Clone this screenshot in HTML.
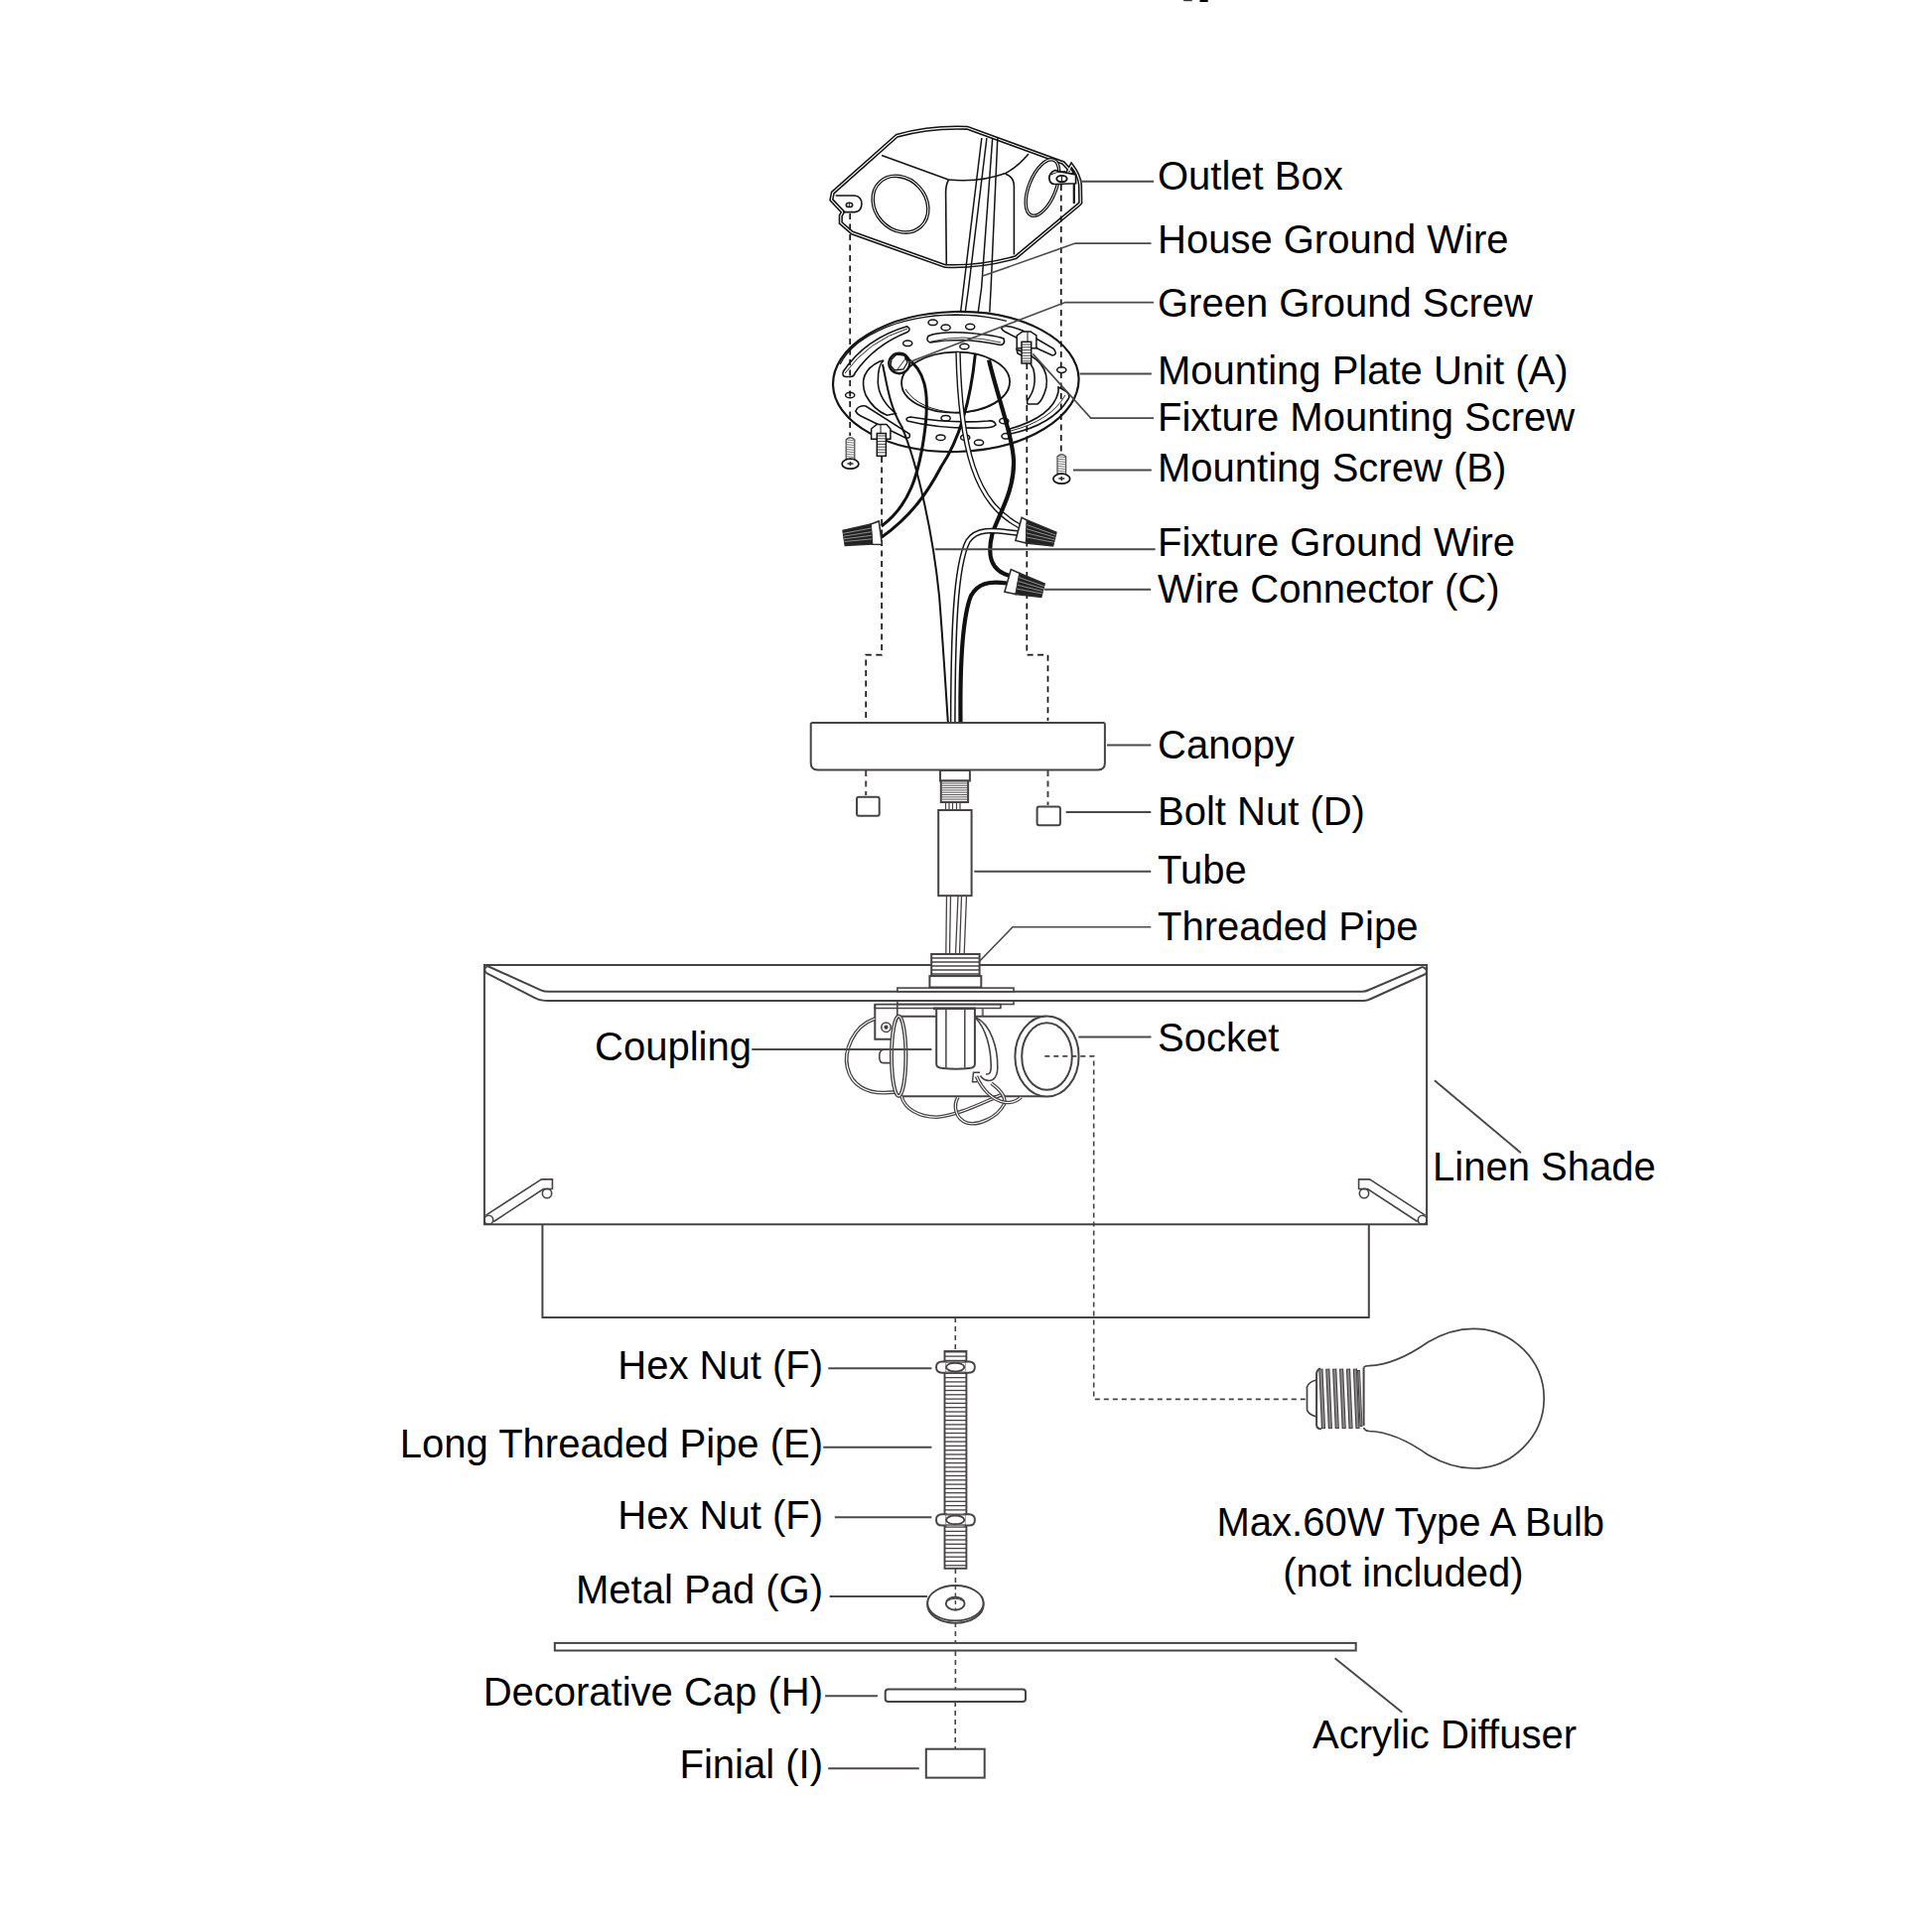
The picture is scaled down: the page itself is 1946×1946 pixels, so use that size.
<!DOCTYPE html>
<html><head><meta charset="utf-8">
<style>
html,body{margin:0;padding:0;background:#fff;}
svg{display:block;}
text{font-family:"Liberation Sans",sans-serif;font-size:40px;fill:#000;}
</style></head>
<body>
<svg width="1946" height="1946" viewBox="0 0 1946 1946">
<rect width="1946" height="1946" fill="#fff"/>
<rect x="1192.2" y="0" width="8.5" height="1.2" fill="#333"/><rect x="1208.5" y="0" width="8.2" height="2" fill="#000"/>
<path d="M487.9,971.9 L1437.1,971.9 L1437.1,1233.3 L487.9,1233.3 Z" stroke="#474344" stroke-width="2.0" fill="none" />
<path d="M491,973 L544.9,997.3 Q548,998.8 552.6,998.8 L1371.9,998.8 Q1375.5,998.8 1379,997 L1433,973.8" stroke="#474344" stroke-width="2.0" fill="none" />
<path d="M490,980.2 L539.7,1005.5 Q544,1008.1 552.6,1008.1 L1373.5,1008.1 Q1377,1008 1381,1006 L1436,981" stroke="#474344" stroke-width="2.0" fill="none" />
<path d="M491,973 Q486,976 490,980.2" stroke="#474344" stroke-width="2.0" fill="none" />
<path d="M1433,973.8 Q1439,977 1436,981" stroke="#474344" stroke-width="2.0" fill="none" />
<path d="M546.4,1233.3 L546.4,1326.9 L1378.8,1326.9 L1378.8,1233.3" stroke="#474344" stroke-width="2.0" fill="none" />
<ellipse cx="492.3" cy="1228.7" rx="4.4" ry="4.4" stroke="#474344" stroke-width="1.6" fill="none"/>
<path d="M489.3,1224.2 L543.8,1188.8 Q545,1187.9 546.1,1187.9 L556.4,1187.9 L556.4,1197.5 L547.5,1197.5 L497.2,1230.5" stroke="#474344" stroke-width="1.6" fill="none" />
<ellipse cx="551.0" cy="1202.1" rx="4.7" ry="4.7" stroke="#474344" stroke-width="1.6" fill="none"/>
<ellipse cx="1432.7" cy="1228.7" rx="4.4" ry="4.4" stroke="#474344" stroke-width="1.6" fill="none"/>
<path d="M1435.7,1224.2 L1381.2,1188.8 Q1380.0,1187.9 1378.9,1187.9 L1368.6,1187.9 L1368.6,1197.5 L1377.5,1197.5 L1427.8,1230.5" stroke="#474344" stroke-width="1.6" fill="none" />
<ellipse cx="1374.0" cy="1202.1" rx="4.7" ry="4.7" stroke="#474344" stroke-width="1.6" fill="none"/>
<path d="M816.7,729.5 Q816.7,727.9 818.5,727.9 L1111.2,727.9 Q1112.9,727.9 1112.9,729.5 L1112.9,768.5 Q1112.9,775.4 1106,775.4 L823.5,775.4 Q816.7,775.4 816.7,768.5 Z" stroke="#474344" stroke-width="2" fill="none" />
<rect x="947.0" y="776.0" width="29.9" height="10.5" rx="0" stroke="#474344" stroke-width="2.0" fill="#fff"/>
<rect x="947.8" y="786.5" width="27.3" height="21.5" rx="0" stroke="#474344" stroke-width="2.0" fill="#fff"/>
<line x1="948.5" y1="789.0" x2="974.5" y2="789.0" stroke="#474344" stroke-width="0.9" />
<line x1="948.5" y1="791.3" x2="974.5" y2="791.3" stroke="#474344" stroke-width="0.9" />
<line x1="948.5" y1="793.6" x2="974.5" y2="793.6" stroke="#474344" stroke-width="0.9" />
<line x1="948.5" y1="795.9" x2="974.5" y2="795.9" stroke="#474344" stroke-width="0.9" />
<line x1="948.5" y1="798.2" x2="974.5" y2="798.2" stroke="#474344" stroke-width="0.9" />
<line x1="948.5" y1="800.5" x2="974.5" y2="800.5" stroke="#474344" stroke-width="0.9" />
<line x1="948.5" y1="802.8" x2="974.5" y2="802.8" stroke="#474344" stroke-width="0.9" />
<line x1="948.5" y1="805.1" x2="974.5" y2="805.1" stroke="#474344" stroke-width="0.9" />
<line x1="948.5" y1="807.4" x2="974.5" y2="807.4" stroke="#474344" stroke-width="0.9" />
<line x1="952.5" y1="808.0" x2="952.5" y2="816.0" stroke="#474344" stroke-width="1.2" />
<line x1="956.0" y1="808.0" x2="956.0" y2="816.0" stroke="#474344" stroke-width="1.2" />
<line x1="959.5" y1="808.0" x2="959.5" y2="816.0" stroke="#474344" stroke-width="1.2" />
<line x1="963.5" y1="808.0" x2="963.5" y2="816.0" stroke="#474344" stroke-width="1.2" />
<line x1="967.0" y1="808.0" x2="967.0" y2="816.0" stroke="#474344" stroke-width="1.2" />
<rect x="945.2" y="816.0" width="33.4" height="86.2" rx="0" stroke="#474344" stroke-width="2" fill="#fff"/>
<line x1="953.5" y1="902.2" x2="952.8" y2="961.0" stroke="#474344" stroke-width="1.3" />
<line x1="957.5" y1="902.2" x2="956.5" y2="961.0" stroke="#474344" stroke-width="1.3" />
<line x1="965.0" y1="902.2" x2="962.5" y2="961.0" stroke="#474344" stroke-width="1.3" />
<line x1="968.5" y1="902.2" x2="966.5" y2="961.0" stroke="#474344" stroke-width="1.3" />
<line x1="973.5" y1="902.2" x2="971.2" y2="961.0" stroke="#474344" stroke-width="1.3" />
<rect x="938.2" y="961.0" width="48.4" height="22.1" rx="0" stroke="#474344" stroke-width="2.0" fill="#fff"/>
<line x1="938.5" y1="965.0" x2="986.3" y2="965.0" stroke="#474344" stroke-width="1.3" />
<line x1="938.5" y1="969.0" x2="986.3" y2="969.0" stroke="#474344" stroke-width="1.3" />
<line x1="938.5" y1="973.0" x2="986.3" y2="973.0" stroke="#474344" stroke-width="1.3" />
<line x1="938.5" y1="977.0" x2="986.3" y2="977.0" stroke="#474344" stroke-width="1.3" />
<line x1="938.5" y1="981.0" x2="986.3" y2="981.0" stroke="#474344" stroke-width="1.3" />
<rect x="936.4" y="983.1" width="51.9" height="11.4" rx="0" stroke="#474344" stroke-width="2.0" fill="#fff"/>
<rect x="903.9" y="995.1" width="117.1" height="3.6" rx="0" stroke="#474344" stroke-width="1.6" fill="#fff"/>
<rect x="903.9" y="1008.2" width="117.1" height="3.3" rx="0" stroke="#474344" stroke-width="1.6" fill="#fff"/>
<rect x="863.0" y="802.7" width="22.7" height="19.0" rx="2" stroke="#474344" stroke-width="2.0" fill="#fff"/>
<rect x="1044.6" y="812.4" width="23.3" height="18.8" rx="2" stroke="#474344" stroke-width="2.0" fill="#fff"/>
<path d="M872.2,776.0 L872.2,801.0" stroke="#474344" stroke-width="2.0" fill="none" stroke-dasharray="6 4.5"/>
<path d="M1055.5,776.0 L1055.5,811.0" stroke="#474344" stroke-width="2.0" fill="none" stroke-dasharray="6 4.5"/>
<path d="M881.3,1011.6 L1007.9,1011.6 L1007.9,1015.5 L881.3,1015.5 Z" stroke="#474344" stroke-width="1.6" fill="none" />
<path d="M881.3,1011.6 L881.3,1046.7 L898.7,1046.7" stroke="#474344" stroke-width="2.0" fill="none" />
<line x1="903.8" y1="1011.9" x2="903.8" y2="1023.5" stroke="#474344" stroke-width="1.6" />
<line x1="989.8" y1="1016.0" x2="989.8" y2="1023.9" stroke="#777" stroke-width="2.2" />
<ellipse cx="892.5" cy="1034.7" rx="4.7" ry="4.7" stroke="#474344" stroke-width="1.5" fill="none"/>
<ellipse cx="892.5" cy="1034.7" rx="1.5" ry="1.5" stroke="#474344" stroke-width="1.2" fill="#2a2a2a"/>
<path d="M881.3,1026 C858,1034 850,1060 853.5,1075 C858,1095 875,1101 890.7,1100.7 L902.3,1100" stroke="#474344" stroke-width="3.8" fill="none" />
<path d="M881.3,1026 C858,1034 850,1060 853.5,1075 C858,1095 875,1101 890.7,1100.7 L902.3,1100" stroke="#fff" stroke-width="1.2" fill="none" />
<path d="M898,1057.2 L889.5,1057.2 Q885.7,1058 885.7,1064 Q885.7,1070.6 889.5,1070.6 L898,1070.6" stroke="#474344" stroke-width="1.6" fill="none" />
<line x1="903.8" y1="1023.8" x2="1054.0" y2="1023.8" stroke="#474344" stroke-width="2.0" />
<line x1="906.0" y1="1104.3" x2="1052.6" y2="1104.3" stroke="#474344" stroke-width="2.0" />
<ellipse cx="905.2" cy="1063.7" rx="7.2" ry="40.2" stroke="#474344" stroke-width="4.0" fill="none"/>
<ellipse cx="905.2" cy="1063.7" rx="7.2" ry="40.2" stroke="#fff" stroke-width="1.2" fill="none"/>
<path d="M943.2,1016 L981.9,1016 L981.9,1072 Q981.9,1075.5 976,1076 Q963,1077.5 950,1076 Q943.2,1075.5 943.2,1072 Z" stroke="#474344" stroke-width="2.0" fill="#fff" />
<line x1="952.9" y1="1017.0" x2="952.9" y2="1075.5" stroke="#474344" stroke-width="1.5" />
<line x1="971.8" y1="1017.0" x2="971.8" y2="1075.5" stroke="#474344" stroke-width="1.5" />
<line x1="940.0" y1="1015.8" x2="983.0" y2="1015.8" stroke="#474344" stroke-width="2.4" />
<path d="M982.8,1024.8 C998,1032 1005,1055 1004.8,1075 C1004.8,1084 1001,1088.5 996.5,1088.5 C992,1088.5 989,1086 987.5,1083.5" stroke="#474344" stroke-width="1.6" fill="none" />
<path d="M982.8,1025.5 C993,1036 998,1055 998.2,1073 C998.4,1080 997,1082.5 993,1082" stroke="#474344" stroke-width="1.6" fill="none" />
<path d="M987,1080.3 L980.5,1080.3 L979.5,1089.7 L984,1089.7" stroke="#474344" stroke-width="1.5" fill="none" />
<ellipse cx="1054.5" cy="1064.0" rx="32.1" ry="40.6" stroke="#474344" stroke-width="2.0" fill="#fff"/>
<ellipse cx="1054.5" cy="1064.0" rx="25.3" ry="33.7" stroke="#474344" stroke-width="2.0" fill="none"/>
<path d="M908,1104.2 C911,1117 926,1125.2 943.5,1125.2 C962,1124 985,1113 1000,1106.5 L1010,1102" stroke="#474344" stroke-width="3.6" fill="none" />
<path d="M908,1104.2 C911,1117 926,1125.2 943.5,1125.2 C962,1124 985,1113 1000,1106.5 L1010,1102" stroke="#fff" stroke-width="1.1" fill="none" />
<path d="M998.6,1091.2 C1008,1098 1014,1106 1011,1113 C1004,1126 985,1134 974,1131 C962,1127 960,1113 965,1105" stroke="#474344" stroke-width="3.6" fill="none" />
<path d="M998.6,1091.2 C1008,1098 1014,1106 1011,1113 C1004,1126 985,1134 974,1131 C962,1127 960,1113 965,1105" stroke="#fff" stroke-width="1.1" fill="none" />
<path d="M983.5,1084 C989,1097 1000,1109 1013,1110.5 C1020,1111 1025,1108.5 1028.5,1105" stroke="#474344" stroke-width="3.6" fill="none" />
<path d="M983.5,1084 C989,1097 1000,1109 1013,1110.5 C1020,1111 1025,1108.5 1028.5,1105" stroke="#fff" stroke-width="1.1" fill="none" />
<path d="M1052.3,1063.9 L1101.7,1063.9 L1101.7,1409.4 L1316.0,1409.4" stroke="#474344" stroke-width="1.6" fill="none" stroke-dasharray="5 4"/>
<path d="M962.3,1327.0 L962.3,1361.0" stroke="#474344" stroke-width="1.6" fill="none" stroke-dasharray="5 4"/>
<rect x="951.5" y="1361.0" width="21.9" height="218.8" rx="0" stroke="#474344" stroke-width="1.9" fill="#fff"/>
<line x1="952.0" y1="1361.8" x2="973.0" y2="1361.8" stroke="#474344" stroke-width="1.3" />
<line x1="952.0" y1="1366.1" x2="973.0" y2="1366.1" stroke="#474344" stroke-width="1.3" />
<line x1="952.0" y1="1370.4" x2="973.0" y2="1370.4" stroke="#474344" stroke-width="1.3" />
<line x1="952.0" y1="1374.7" x2="973.0" y2="1374.7" stroke="#474344" stroke-width="1.3" />
<line x1="952.0" y1="1379.0" x2="973.0" y2="1379.0" stroke="#474344" stroke-width="1.3" />
<line x1="952.0" y1="1383.3" x2="973.0" y2="1383.3" stroke="#474344" stroke-width="1.3" />
<line x1="952.0" y1="1387.6" x2="973.0" y2="1387.6" stroke="#474344" stroke-width="1.3" />
<line x1="952.0" y1="1391.9" x2="973.0" y2="1391.9" stroke="#474344" stroke-width="1.3" />
<line x1="952.0" y1="1396.2" x2="973.0" y2="1396.2" stroke="#474344" stroke-width="1.3" />
<line x1="952.0" y1="1400.5" x2="973.0" y2="1400.5" stroke="#474344" stroke-width="1.3" />
<line x1="952.0" y1="1404.8" x2="973.0" y2="1404.8" stroke="#474344" stroke-width="1.3" />
<line x1="952.0" y1="1409.1" x2="973.0" y2="1409.1" stroke="#474344" stroke-width="1.3" />
<line x1="952.0" y1="1413.4" x2="973.0" y2="1413.4" stroke="#474344" stroke-width="1.3" />
<line x1="952.0" y1="1417.7" x2="973.0" y2="1417.7" stroke="#474344" stroke-width="1.3" />
<line x1="952.0" y1="1422.0" x2="973.0" y2="1422.0" stroke="#474344" stroke-width="1.3" />
<line x1="952.0" y1="1426.3" x2="973.0" y2="1426.3" stroke="#474344" stroke-width="1.3" />
<line x1="952.0" y1="1430.6" x2="973.0" y2="1430.6" stroke="#474344" stroke-width="1.3" />
<line x1="952.0" y1="1434.9" x2="973.0" y2="1434.9" stroke="#474344" stroke-width="1.3" />
<line x1="952.0" y1="1439.2" x2="973.0" y2="1439.2" stroke="#474344" stroke-width="1.3" />
<line x1="952.0" y1="1443.5" x2="973.0" y2="1443.5" stroke="#474344" stroke-width="1.3" />
<line x1="952.0" y1="1447.8" x2="973.0" y2="1447.8" stroke="#474344" stroke-width="1.3" />
<line x1="952.0" y1="1452.1" x2="973.0" y2="1452.1" stroke="#474344" stroke-width="1.3" />
<line x1="952.0" y1="1456.4" x2="973.0" y2="1456.4" stroke="#474344" stroke-width="1.3" />
<line x1="952.0" y1="1460.7" x2="973.0" y2="1460.7" stroke="#474344" stroke-width="1.3" />
<line x1="952.0" y1="1465.0" x2="973.0" y2="1465.0" stroke="#474344" stroke-width="1.3" />
<line x1="952.0" y1="1469.3" x2="973.0" y2="1469.3" stroke="#474344" stroke-width="1.3" />
<line x1="952.0" y1="1473.6" x2="973.0" y2="1473.6" stroke="#474344" stroke-width="1.3" />
<line x1="952.0" y1="1477.9" x2="973.0" y2="1477.9" stroke="#474344" stroke-width="1.3" />
<line x1="952.0" y1="1482.2" x2="973.0" y2="1482.2" stroke="#474344" stroke-width="1.3" />
<line x1="952.0" y1="1486.5" x2="973.0" y2="1486.5" stroke="#474344" stroke-width="1.3" />
<line x1="952.0" y1="1490.8" x2="973.0" y2="1490.8" stroke="#474344" stroke-width="1.3" />
<line x1="952.0" y1="1495.1" x2="973.0" y2="1495.1" stroke="#474344" stroke-width="1.3" />
<line x1="952.0" y1="1499.4" x2="973.0" y2="1499.4" stroke="#474344" stroke-width="1.3" />
<line x1="952.0" y1="1503.7" x2="973.0" y2="1503.7" stroke="#474344" stroke-width="1.3" />
<line x1="952.0" y1="1508.0" x2="973.0" y2="1508.0" stroke="#474344" stroke-width="1.3" />
<line x1="952.0" y1="1512.3" x2="973.0" y2="1512.3" stroke="#474344" stroke-width="1.3" />
<line x1="952.0" y1="1516.6" x2="973.0" y2="1516.6" stroke="#474344" stroke-width="1.3" />
<line x1="952.0" y1="1520.9" x2="973.0" y2="1520.9" stroke="#474344" stroke-width="1.3" />
<line x1="952.0" y1="1525.2" x2="973.0" y2="1525.2" stroke="#474344" stroke-width="1.3" />
<line x1="952.0" y1="1529.5" x2="973.0" y2="1529.5" stroke="#474344" stroke-width="1.3" />
<line x1="952.0" y1="1533.8" x2="973.0" y2="1533.8" stroke="#474344" stroke-width="1.3" />
<line x1="952.0" y1="1538.1" x2="973.0" y2="1538.1" stroke="#474344" stroke-width="1.3" />
<line x1="952.0" y1="1542.4" x2="973.0" y2="1542.4" stroke="#474344" stroke-width="1.3" />
<line x1="952.0" y1="1546.7" x2="973.0" y2="1546.7" stroke="#474344" stroke-width="1.3" />
<line x1="952.0" y1="1551.0" x2="973.0" y2="1551.0" stroke="#474344" stroke-width="1.3" />
<line x1="952.0" y1="1555.3" x2="973.0" y2="1555.3" stroke="#474344" stroke-width="1.3" />
<line x1="952.0" y1="1559.6" x2="973.0" y2="1559.6" stroke="#474344" stroke-width="1.3" />
<line x1="952.0" y1="1563.9" x2="973.0" y2="1563.9" stroke="#474344" stroke-width="1.3" />
<line x1="952.0" y1="1568.2" x2="973.0" y2="1568.2" stroke="#474344" stroke-width="1.3" />
<line x1="952.0" y1="1572.5" x2="973.0" y2="1572.5" stroke="#474344" stroke-width="1.3" />
<line x1="952.0" y1="1576.8" x2="973.0" y2="1576.8" stroke="#474344" stroke-width="1.3" />
<path d="M953,1371.5 L949,1371.5 Q943,1371.5 943,1377.1 Q943,1382.6999999999998 949,1382.6999999999998 L953,1382.6999999999998 Z" stroke="#474344" stroke-width="1.9" fill="#fff" />
<path d="M971.5,1371.5 L976,1371.5 Q981.9,1371.5 981.9,1377.1 Q981.9,1382.6999999999998 976,1382.6999999999998 L971.5,1382.6999999999998 Z" stroke="#474344" stroke-width="1.9" fill="#fff" />
<rect x="952.5" y="1371.5" width="19.5" height="11.2" fill="#fff"/>
<ellipse cx="962.2" cy="1377.1" rx="9.1" ry="4.4" stroke="#474344" stroke-width="1.9" fill="#fff"/>
<line x1="952.5" y1="1372.0" x2="972.0" y2="1372.0" stroke="#474344" stroke-width="1.3" />
<line x1="952.5" y1="1382.2" x2="972.0" y2="1382.2" stroke="#474344" stroke-width="1.3" />
<path d="M953,1525.3000000000002 L949,1525.3000000000002 Q943,1525.3000000000002 943,1530.9 Q943,1536.5 949,1536.5 L953,1536.5 Z" stroke="#474344" stroke-width="1.9" fill="#fff" />
<path d="M971.5,1525.3000000000002 L976,1525.3000000000002 Q981.9,1525.3000000000002 981.9,1530.9 Q981.9,1536.5 976,1536.5 L971.5,1536.5 Z" stroke="#474344" stroke-width="1.9" fill="#fff" />
<rect x="952.5" y="1525.3" width="19.5" height="11.2" fill="#fff"/>
<ellipse cx="962.2" cy="1530.9" rx="9.1" ry="4.4" stroke="#474344" stroke-width="1.9" fill="#fff"/>
<line x1="952.5" y1="1525.8" x2="972.0" y2="1525.8" stroke="#474344" stroke-width="1.3" />
<line x1="952.5" y1="1536.0" x2="972.0" y2="1536.0" stroke="#474344" stroke-width="1.3" />
<path d="M962.4,1580.0 L962.4,1597.0" stroke="#474344" stroke-width="1.6" fill="none" stroke-dasharray="5 4"/>
<ellipse cx="962.4" cy="1616.5" rx="28.2" ry="18.2" stroke="#474344" stroke-width="2.0" fill="none"/>
<ellipse cx="962.4" cy="1614.7" rx="28.2" ry="17.7" stroke="#474344" stroke-width="1.9" fill="#fff"/>
<ellipse cx="962.2" cy="1615.2" rx="9.4" ry="6.5" stroke="#474344" stroke-width="1.9" fill="none"/>
<path d="M953.5,1613 Q962,1607.5 971,1613" stroke="#474344" stroke-width="1.0" fill="none" />
<path d="M962.4,1597.0 L962.4,1622.0" stroke="#474344" stroke-width="1.5" fill="none" stroke-dasharray="4 3.5"/>
<path d="M962.4,1634.0 L962.4,1654.0" stroke="#474344" stroke-width="1.6" fill="none" stroke-dasharray="5 4"/>
<rect x="558.8" y="1654.9" width="806.9" height="7.6" rx="0" stroke="#474344" stroke-width="2.0" fill="#fff"/>
<path d="M962.4,1663.0 L962.4,1701.0" stroke="#474344" stroke-width="1.6" fill="none" stroke-dasharray="5 4"/>
<rect x="891.7" y="1701.5" width="141.3" height="12.4" rx="3" stroke="#474344" stroke-width="2.0" fill="#fff"/>
<path d="M962.2,1714.0 L962.2,1761.0" stroke="#474344" stroke-width="1.6" fill="none" stroke-dasharray="5 4"/>
<rect x="932.8" y="1761.7" width="58.9" height="28.9" rx="0" stroke="#474344" stroke-width="2.0" fill="#fff"/>
<path d="M1326.1,1390 Q1318,1392 1316.5,1397 L1316.5,1420 Q1318,1425 1326.1,1426.9" stroke="#474344" stroke-width="1.7" fill="none" />
<path d="M1330,1378.4 Q1326.1,1380 1326.1,1384 L1326.1,1435.6 Q1326.5,1439.3 1331,1439.3 M1373.6,1377.2 L1373.6,1436" stroke="#474344" stroke-width="2.0" fill="none" />
<path d="M1330.4,1378.6 L1333.0,1439" stroke="#474344" stroke-width="4.2" fill="none" />
<path d="M1330.4,1379.5 L1333.0,1438" stroke="#8a8a8a" stroke-width="2.0" fill="none" />
<path d="M1337.3,1378.6 L1339.9,1439" stroke="#474344" stroke-width="4.2" fill="none" />
<path d="M1337.3,1379.5 L1339.9,1438" stroke="#8a8a8a" stroke-width="2.0" fill="none" />
<path d="M1344.2,1378.6 L1346.8,1439" stroke="#474344" stroke-width="4.2" fill="none" />
<path d="M1344.2,1379.5 L1346.8,1438" stroke="#8a8a8a" stroke-width="2.0" fill="none" />
<path d="M1351.1,1378.6 L1353.7,1439" stroke="#474344" stroke-width="4.2" fill="none" />
<path d="M1351.1,1379.5 L1353.7,1438" stroke="#8a8a8a" stroke-width="2.0" fill="none" />
<path d="M1358.0,1378.6 L1360.6,1439" stroke="#474344" stroke-width="4.2" fill="none" />
<path d="M1358.0,1379.5 L1360.6,1438" stroke="#8a8a8a" stroke-width="2.0" fill="none" />
<path d="M1364.9,1378.6 L1367.5,1439" stroke="#474344" stroke-width="4.2" fill="none" />
<path d="M1364.9,1379.5 L1367.5,1438" stroke="#8a8a8a" stroke-width="2.0" fill="none" />
<path d="M1368.5,1380 L1371,1437" stroke="#474344" stroke-width="3.0" fill="none" />
<path d="M1368.8,1381 L1371,1436" stroke="#8a8a8a" stroke-width="1.2" fill="none" />
<path d="M1373.6,1377.2 Q1375,1375.6 1379,1375.6 C1398,1375 1418,1366 1438.5,1351.7 C1455,1342 1468,1338.3 1484.2,1338.3 C1523,1338.3 1555.2,1370 1555.2,1408.5 C1555.2,1447 1523,1479 1484.2,1479 C1468,1479 1455,1475 1438.5,1465.5 C1418,1451 1398,1442 1379,1441.5 Q1374.5,1441 1373.6,1438" stroke="#474344" stroke-width="1.7" fill="none" />
<path d="M838.8,194.1 L903.3,136.8 Q935.9,127.4 974.3,128.8 L1071,164.1 L1079.3,173.2 L1074.9,174.3 L1079.3,166.3 Q1087,176 1088,186.2 L1088.3,204.3 L1086.9,205.8 L1022.9,259.3 Q986.7,269.4 951.9,268 L858.4,234.6 L846.8,224.5 L846.8,217.2 L849,213.6 L837.4,201.3 Z" stroke="#141414" stroke-width="4.2" fill="#fff" />
<path d="M838.8,194.1 L903.3,136.8 Q935.9,127.4 974.3,128.8 L1071,164.1 L1079.3,173.2 L1074.9,174.3 L1079.3,166.3 Q1087,176 1088,186.2 L1088.3,204.3 L1086.9,205.8 L1022.9,259.3 Q986.7,269.4 951.9,268 L858.4,234.6 L846.8,224.5 L846.8,217.2 L849,213.6 L837.4,201.3 Z" stroke="#fff" stroke-width="1.1" fill="none" />
<path d="M841.7,197 L861,197 Q868,198 868,205.7 Q867,213.6 861,213.6 L849,213.6" stroke="#141414" stroke-width="1.6" fill="none" />
<ellipse cx="855.5" cy="206.4" rx="3.2" ry="2.2" stroke="#141414" stroke-width="1.5" fill="none"/>
<line x1="855.5" y1="204.5" x2="855.5" y2="208.3" stroke="#141414" stroke-width="0.8" />
<line x1="888.1" y1="156.4" x2="955.5" y2="181.0" stroke="#141414" stroke-width="1.6" />
<path d="M955.5,181 Q986.7,184 1012.8,174.5 Q1025,168 1036,154.9" stroke="#141414" stroke-width="1.6" fill="none" />
<path d="M955.5,181 Q952.6,186 952.6,194 L953.3,266.5" stroke="#141414" stroke-width="1.6" fill="none" />
<path d="M1012.8,175.2 Q1021.4,178 1021.4,188 L1021.4,256.4" stroke="#141414" stroke-width="1.6" fill="none" />
<ellipse cx="907.0" cy="205.7" rx="30.5" ry="25.5" stroke="#141414" stroke-width="3.6" fill="none" transform="rotate(48 907.0 205.7)"/>
<ellipse cx="907.0" cy="205.7" rx="30.5" ry="25.5" stroke="#fff" stroke-width="1.0" fill="none" transform="rotate(48 907.0 205.7)"/>
<ellipse cx="1050.0" cy="189.0" rx="13.5" ry="30.0" stroke="#141414" stroke-width="3.4" fill="none" transform="rotate(22 1050.0 189.0)"/>
<ellipse cx="1050.0" cy="189.0" rx="13.5" ry="30.0" stroke="#fff" stroke-width="0.9" fill="none" transform="rotate(22 1050.0 189.0)"/>
<path d="M1063,171.5 Q1056.5,174 1056.8,179.7 Q1057.5,185.5 1062.5,185.5 L1083.6,184.8 L1083.6,176 L1076,174.3 Q1068,173.5 1063,171.5 Z" stroke="#141414" stroke-width="1.7" fill="#fff" />
<path d="M1058.5,176 Q1064,173 1073,172.5" stroke="#141414" stroke-width="1.2" fill="none" />
<ellipse cx="1069.5" cy="180.1" rx="5.2" ry="3.2" stroke="#141414" stroke-width="1.9" fill="none"/>
<line x1="1069.5" y1="177.5" x2="1069.5" y2="182.7" stroke="#141414" stroke-width="1.0" />
<line x1="1081.8" y1="185.0" x2="1081.8" y2="205.0" stroke="#141414" stroke-width="2.2" />
<line x1="988.8" y1="139.0" x2="970.5" y2="290.0" stroke="#141414" stroke-width="1.5" />
<line x1="993.9" y1="139.0" x2="975.6" y2="290.0" stroke="#141414" stroke-width="1.5" />
<line x1="999.7" y1="139.0" x2="988.6" y2="290.0" stroke="#141414" stroke-width="1.5" />
<line x1="1004.8" y1="139.0" x2="998.1" y2="290.0" stroke="#141414" stroke-width="1.5" />
<line x1="970.5" y1="290.0" x2="967.6" y2="314.5" stroke="#141414" stroke-width="1.5" />
<line x1="975.6" y1="290.0" x2="972.2" y2="314.5" stroke="#141414" stroke-width="1.5" />
<line x1="988.6" y1="290.0" x2="985.2" y2="314.5" stroke="#141414" stroke-width="1.5" />
<line x1="998.1" y1="290.0" x2="996.8" y2="314.5" stroke="#141414" stroke-width="1.5" />
<ellipse cx="962.8" cy="384.5" rx="123.8" ry="70.5" stroke="#141414" stroke-width="2.2" fill="#fff" transform="rotate(-1.5 962.8 384.5)"/>
<path d="M846.1,367.0 L849.3,361.4 L853.3,356.0 L858.2,350.8 L863.8,345.8 L870.3,341.1 L877.4,336.8 L885.2,332.8 L893.5,329.2 L902.4,326.0 L911.7,323.3 L921.5,321.1 L931.5,319.3 L941.8,318.0 L952.3,317.3 L962.8,317.0 L973.3,317.3 L983.8,318.0 L994.1,319.3 L1004.1,321.1 L1013.9,323.3" stroke="#141414" stroke-width="1.3" fill="none" />
<ellipse cx="962.6" cy="385.2" rx="54.5" ry="30.5" stroke="#141414" stroke-width="1.8" fill="none" transform="rotate(-1 962.6 385.2)"/>
<path d="M912,392 Q925,413 965,416 Q1005,414 1016,392" stroke="#141414" stroke-width="1.0" fill="none" />
<path d="M913.5,328.8 Q872,341 849.5,374 Q847.5,379 852,379.5 L857,379.5 Q860.5,379 861,376 Q880,348 914,334.5 Q918.5,331.5 913.5,328.8 Z" stroke="#141414" stroke-width="1.6" fill="none" />
<path d="M914,331 Q875,343 851,376" stroke="#141414" stroke-width="0.9" fill="none" />
<path d="M886.2,364 Q863,375 872,398 Q880,413 893.4,418.2 L902.2,416.6 Q885,402 884.3,385.3 Q884,368 890,363 Z" stroke="#141414" stroke-width="1.6" fill="none" />
<path d="M1024,352 Q1058,363 1053.9,390 Q1050,404 1045,407 L1035,407 Q1034,405 1035,403 Q1045,390 1041,372 Q1036,360 1025,356 Z" stroke="#141414" stroke-width="1.6" fill="none" />
<path d="M1066,390 Q1080,396 1076,402 Q1060,428 1017.8,437 L1017,432 Q1060,420 1066,395 Z" stroke="#141414" stroke-width="1.6" fill="none" />
<path d="M1073,398 Q1058,424 1018,434" stroke="#141414" stroke-width="0.9" fill="none" />
<path d="M935,338.5 Q945,334 970,335 Q1000,337 1011,341 Q1013,346.5 1008,347.5 Q985,343 970,342.5 Q950,342.5 937,345 Q932,343 935,338.5 Z" stroke="#141414" stroke-width="1.6" fill="none" />
<path d="M938,344 Q955,340 970,340 Q990,340.5 1008,345" stroke="#141414" stroke-width="0.8" fill="none" />
<path d="M914,424 Q945,432 990,431 Q1000,431 1003,428 Q1002,423 995,424 Q960,427 917,420 Q911,421 914,424 Z" stroke="#141414" stroke-width="1.6" fill="none" />
<path d="M1010,329 Q1015,327 1030,333 L1061,351 Q1066,357 1060,358 L1047,352 L1012,334 Q1007,331 1010,329 Z" stroke="#141414" stroke-width="1.6" fill="none" />
<path d="M863,412 Q866,408 872,409 L916,437 Q918,442 912,441 L867,419 Q860,415 863,412 Z" stroke="#141414" stroke-width="1.6" fill="none" />
<ellipse cx="939.6" cy="324.8" rx="4.6" ry="2.8" stroke="#141414" stroke-width="1.5" fill="none"/>
<ellipse cx="952.6" cy="329.9" rx="4.6" ry="2.8" stroke="#141414" stroke-width="1.5" fill="none"/>
<ellipse cx="977.2" cy="329.1" rx="4.6" ry="2.8" stroke="#141414" stroke-width="1.5" fill="none"/>
<ellipse cx="914.2" cy="345.8" rx="4.6" ry="2.8" stroke="#141414" stroke-width="1.5" fill="none"/>
<ellipse cx="971.4" cy="349.0" rx="4.6" ry="2.8" stroke="#141414" stroke-width="1.5" fill="none"/>
<ellipse cx="856.2" cy="398.0" rx="4.6" ry="2.8" stroke="#141414" stroke-width="1.5" fill="none"/>
<ellipse cx="952.6" cy="421.2" rx="4.6" ry="2.8" stroke="#141414" stroke-width="1.5" fill="none"/>
<ellipse cx="947.5" cy="440.7" rx="4.6" ry="2.8" stroke="#141414" stroke-width="1.5" fill="none"/>
<ellipse cx="986.0" cy="445.8" rx="4.6" ry="2.8" stroke="#141414" stroke-width="1.5" fill="none"/>
<ellipse cx="972.2" cy="440.7" rx="4.6" ry="2.8" stroke="#141414" stroke-width="1.5" fill="none"/>
<ellipse cx="1069.3" cy="372.6" rx="4.6" ry="2.8" stroke="#141414" stroke-width="1.5" fill="none"/>
<ellipse cx="1011.3" cy="424.0" rx="4.6" ry="2.8" stroke="#141414" stroke-width="1.5" fill="none"/>
<ellipse cx="1013.5" cy="439.3" rx="4.6" ry="2.8" stroke="#141414" stroke-width="1.5" fill="none"/>
<ellipse cx="905.8" cy="366.0" rx="10.5" ry="10.2" stroke="#141414" stroke-width="2.4" fill="#fff"/>
<path d="M898,362 L903,357 L911,358 L914,365 L910,372 L901,373 L897,368 Z" stroke="#141414" stroke-width="1.3" fill="none" />
<line x1="904.0" y1="372.0" x2="913.0" y2="360.0" stroke="#141414" stroke-width="0.9" />
<path d="M877.6,432 L883,427.4 L893,427.4 L896.9,432 L896.9,442.2 L877.6,442.2 Z" stroke="#141414" stroke-width="1.5" fill="#fff" />
<line x1="887.0" y1="427.4" x2="887.0" y2="442.2" stroke="#141414" stroke-width="1.0" />
<rect x="883.3" y="436.5" width="9.1" height="22.8" rx="0" stroke="#141414" stroke-width="1.5" fill="#fff"/>
<line x1="883.5" y1="439.0" x2="892.2" y2="439.0" stroke="#141414" stroke-width="0.8" />
<line x1="883.5" y1="441.8" x2="892.2" y2="441.8" stroke="#141414" stroke-width="0.8" />
<line x1="883.5" y1="444.6" x2="892.2" y2="444.6" stroke="#141414" stroke-width="0.8" />
<line x1="883.5" y1="447.4" x2="892.2" y2="447.4" stroke="#141414" stroke-width="0.8" />
<line x1="883.5" y1="450.2" x2="892.2" y2="450.2" stroke="#141414" stroke-width="0.8" />
<line x1="883.5" y1="453.0" x2="892.2" y2="453.0" stroke="#141414" stroke-width="0.8" />
<line x1="883.5" y1="455.8" x2="892.2" y2="455.8" stroke="#141414" stroke-width="0.8" />
<path d="M1024.2,338 L1030,333.9 L1038,333.9 L1043.9,338 L1043.9,350.7 L1024.2,350.7 Z" stroke="#141414" stroke-width="1.5" fill="#fff" />
<line x1="1035.0" y1="333.9" x2="1035.0" y2="350.7" stroke="#141414" stroke-width="1.0" />
<rect x="1029.0" y="344.3" width="9.7" height="21.7" rx="0" stroke="#141414" stroke-width="1.5" fill="#fff"/>
<line x1="1029.2" y1="347.0" x2="1038.5" y2="347.0" stroke="#141414" stroke-width="0.8" />
<line x1="1029.2" y1="349.8" x2="1038.5" y2="349.8" stroke="#141414" stroke-width="0.8" />
<line x1="1029.2" y1="352.6" x2="1038.5" y2="352.6" stroke="#141414" stroke-width="0.8" />
<line x1="1029.2" y1="355.4" x2="1038.5" y2="355.4" stroke="#141414" stroke-width="0.8" />
<line x1="1029.2" y1="358.2" x2="1038.5" y2="358.2" stroke="#141414" stroke-width="0.8" />
<line x1="1029.2" y1="361.0" x2="1038.5" y2="361.0" stroke="#141414" stroke-width="0.8" />
<line x1="1029.2" y1="363.8" x2="1038.5" y2="363.8" stroke="#141414" stroke-width="0.8" />
<path d="M852.2,464 L852.2,442.8 Q856.5,438.8 860.8,442.8 L860.8,464" stroke="#555" stroke-width="1.3" fill="none" />
<line x1="852.2" y1="442.8" x2="860.8" y2="443.8" stroke="#555" stroke-width="0.8" />
<line x1="852.2" y1="445.2" x2="860.8" y2="446.2" stroke="#555" stroke-width="0.8" />
<line x1="852.2" y1="447.6" x2="860.8" y2="448.6" stroke="#555" stroke-width="0.8" />
<line x1="852.2" y1="450.0" x2="860.8" y2="451.0" stroke="#555" stroke-width="0.8" />
<line x1="852.2" y1="452.4" x2="860.8" y2="453.4" stroke="#555" stroke-width="0.8" />
<line x1="852.2" y1="454.8" x2="860.8" y2="455.8" stroke="#555" stroke-width="0.8" />
<line x1="852.2" y1="457.2" x2="860.8" y2="458.2" stroke="#555" stroke-width="0.8" />
<line x1="852.2" y1="459.6" x2="860.8" y2="460.6" stroke="#555" stroke-width="0.8" />
<line x1="852.2" y1="462.0" x2="860.8" y2="463.0" stroke="#555" stroke-width="0.8" />
<ellipse cx="856.5" cy="467.2" rx="8.4" ry="5.0" stroke="#141414" stroke-width="1.7" fill="#fff"/>
<path d="M853.5,467 L859.5,467 M856.5,465 L856.5,469" stroke="#3a2a2a" stroke-width="1.6" fill="none" />
<path d="M1065.0,479 L1065.0,459.7 Q1069.3,455.7 1073.6,459.7 L1073.6,479" stroke="#555" stroke-width="1.3" fill="none" />
<line x1="1065.0" y1="459.7" x2="1073.6" y2="460.7" stroke="#555" stroke-width="0.8" />
<line x1="1065.0" y1="462.1" x2="1073.6" y2="463.1" stroke="#555" stroke-width="0.8" />
<line x1="1065.0" y1="464.5" x2="1073.6" y2="465.5" stroke="#555" stroke-width="0.8" />
<line x1="1065.0" y1="466.9" x2="1073.6" y2="467.9" stroke="#555" stroke-width="0.8" />
<line x1="1065.0" y1="469.3" x2="1073.6" y2="470.3" stroke="#555" stroke-width="0.8" />
<line x1="1065.0" y1="471.7" x2="1073.6" y2="472.7" stroke="#555" stroke-width="0.8" />
<line x1="1065.0" y1="474.1" x2="1073.6" y2="475.1" stroke="#555" stroke-width="0.8" />
<line x1="1065.0" y1="476.5" x2="1073.6" y2="477.5" stroke="#555" stroke-width="0.8" />
<line x1="1065.0" y1="478.9" x2="1073.6" y2="479.9" stroke="#555" stroke-width="0.8" />
<ellipse cx="1069.3" cy="482.2" rx="8.4" ry="5.0" stroke="#141414" stroke-width="1.7" fill="#fff"/>
<path d="M1066.3,482 L1072.3,482 M1069.3,480 L1069.3,484" stroke="#3a2a2a" stroke-width="1.6" fill="none" />
<path d="M856.2,215.0 L856.2,439.0" stroke="#141414" stroke-width="1.7" fill="none" stroke-dasharray="6 4.5"/>
<path d="M1068.8,186.0 L1068.8,456.0" stroke="#141414" stroke-width="1.7" fill="none" stroke-dasharray="6 4.5"/>
<path d="M888.1,460.0 L888.1,659.7 L872.2,659.7 L872.2,726.0" stroke="#141414" stroke-width="1.7" fill="none" stroke-dasharray="6 4.5"/>
<path d="M1034.3,366.0 L1034.3,659.7 L1055.5,659.7 L1055.5,726.0" stroke="#141414" stroke-width="1.7" fill="none" stroke-dasharray="6 4.5"/>
<path d="M889,367 C893,385 896,410 908.3,429.7 C925,470 940,540 946,600 C950,650 953,700 954.8,727" stroke="#111" stroke-width="2.0" fill="none" />
<path d="M912,360 C932,372 936,395 932,430 C926,480 915,510 887.8,530" stroke="#111" stroke-width="3.0" fill="none" />
<path d="M982.3,356.8 C978,400 968,440 948,470 C935,495 918,520 887.8,541.3" stroke="#111" stroke-width="3.0" fill="none" />
<path d="M965,355 C966,400 970,440 980,470 C990,500 1005,518 1027,530" stroke="#141414" stroke-width="5.4" fill="none" />
<path d="M965,355 C966,400 970,440 980,470 C990,500 1005,518 1027,530" stroke="#fff" stroke-width="2.6" fill="none" />
<path d="M996,362.5 C1005,400 1020,440 1021,463.9 C1022,495 1005,520 999.4,537.9 C994,560 998,575 1017,580" stroke="#111" stroke-width="4.2" fill="none" />
<path d="M1025,537 C1005,535 985,530 975,545 C962,570 960,640 959.8,727" stroke="#141414" stroke-width="5.8" fill="none" />
<path d="M1025,537 C1005,535 985,530 975,545 C962,570 960,640 959.8,727" stroke="#fff" stroke-width="2.8" fill="none" />
<path d="M1014.5,587.5 C995,585 985,588 978,600 C968,625 967,680 967.5,727" stroke="#111" stroke-width="4.2" fill="none" />
<polygon points="877.0,528.0 885.3,524.9 888.4,548.5 878.5,548.2" fill="#fff" stroke="#2a2a2a" stroke-width="1.6"/>
<polygon points="877.0,528.0 849.0,534.3 851.2,549.5 878.5,548.2" fill="#222" stroke="#2a2a2a" stroke-width="1.4"/>
<line x1="877.3" y1="532.0" x2="849.4" y2="537.3" stroke="#bbb" stroke-width="0.7" />
<line x1="877.6" y1="535.7" x2="849.8" y2="540.1" stroke="#bbb" stroke-width="0.7" />
<line x1="877.8" y1="539.3" x2="850.2" y2="542.8" stroke="#bbb" stroke-width="0.7" />
<line x1="878.1" y1="542.9" x2="850.6" y2="545.5" stroke="#bbb" stroke-width="0.7" />
<polygon points="1034.5,524.0 1029.1,521.4 1022.9,544.5 1033.5,547.0" fill="#fff" stroke="#2a2a2a" stroke-width="1.6"/>
<polygon points="1034.5,524.0 1064.0,536.1 1060.6,549.9 1033.5,547.0" fill="#222" stroke="#2a2a2a" stroke-width="1.4"/>
<line x1="1034.3" y1="528.6" x2="1063.3" y2="538.9" stroke="#bbb" stroke-width="0.7" />
<line x1="1034.1" y1="532.7" x2="1062.7" y2="541.3" stroke="#bbb" stroke-width="0.7" />
<line x1="1033.9" y1="536.9" x2="1062.1" y2="543.8" stroke="#bbb" stroke-width="0.7" />
<line x1="1033.8" y1="541.0" x2="1061.5" y2="546.3" stroke="#bbb" stroke-width="0.7" />
<polygon points="1027.1,577.4 1018.3,573.5 1011.9,596.1 1023.2,598.6" fill="#fff" stroke="#2a2a2a" stroke-width="1.6"/>
<polygon points="1027.1,577.4 1052.2,587.8 1048.8,601.5 1023.2,598.6" fill="#222" stroke="#2a2a2a" stroke-width="1.4"/>
<line x1="1026.3" y1="581.6" x2="1051.5" y2="590.5" stroke="#bbb" stroke-width="0.7" />
<line x1="1025.6" y1="585.5" x2="1050.9" y2="593.0" stroke="#bbb" stroke-width="0.7" />
<line x1="1024.9" y1="589.3" x2="1050.3" y2="595.5" stroke="#bbb" stroke-width="0.7" />
<line x1="1024.2" y1="593.1" x2="1049.7" y2="597.9" stroke="#bbb" stroke-width="0.7" />
<line x1="1088.0" y1="182.7" x2="1162.1" y2="182.7" stroke="#4d494a" stroke-width="2.0" />
<path d="M989.6,278.1 L1083,245.1 L1159.5,245.1" stroke="#4d494a" stroke-width="1.6" fill="none" />
<path d="M915.2,364.9 L1073,304.6 L1162.1,304.6" stroke="#4d494a" stroke-width="1.6" fill="none" />
<line x1="1087.6" y1="376.5" x2="1159.8" y2="376.5" stroke="#4d494a" stroke-width="2.0" />
<path d="M1040.3,356.4 L1098.7,421.1 L1162.1,421.1" stroke="#4d494a" stroke-width="1.6" fill="none" />
<line x1="1081.0" y1="473.4" x2="1159.8" y2="473.4" stroke="#4d494a" stroke-width="2.0" />
<line x1="941.7" y1="553.2" x2="1163.6" y2="553.2" stroke="#4d494a" stroke-width="2.0" />
<line x1="1051.9" y1="593.8" x2="1159.2" y2="593.8" stroke="#4d494a" stroke-width="2.0" />
<line x1="1115.0" y1="750.6" x2="1159.3" y2="750.6" stroke="#4d494a" stroke-width="2.0" />
<line x1="1073.7" y1="818.0" x2="1159.3" y2="818.0" stroke="#4d494a" stroke-width="2.0" />
<line x1="981.3" y1="877.8" x2="1159.3" y2="877.8" stroke="#4d494a" stroke-width="2.0" />
<path d="M986.6,968.2 L1020,933.8 L1159.3,933.8" stroke="#4d494a" stroke-width="1.6" fill="none" />
<line x1="1086.3" y1="1044.5" x2="1159.5" y2="1044.5" stroke="#4d494a" stroke-width="2.0" />
<line x1="757.3" y1="1056.9" x2="938.4" y2="1056.9" stroke="#4d494a" stroke-width="2.0" />
<line x1="1444.9" y1="1088.2" x2="1531.9" y2="1161.2" stroke="#4d494a" stroke-width="2.0" />
<line x1="834.3" y1="1378.2" x2="938.4" y2="1378.2" stroke="#4d494a" stroke-width="2.0" />
<line x1="829.2" y1="1457.7" x2="938.4" y2="1457.7" stroke="#4d494a" stroke-width="2.0" />
<line x1="840.8" y1="1528.3" x2="938.4" y2="1528.3" stroke="#4d494a" stroke-width="2.0" />
<line x1="835.6" y1="1608.0" x2="934.0" y2="1608.0" stroke="#4d494a" stroke-width="2.0" />
<line x1="831.1" y1="1708.3" x2="883.9" y2="1708.3" stroke="#4d494a" stroke-width="2.0" />
<line x1="834.2" y1="1781.3" x2="925.8" y2="1781.3" stroke="#4d494a" stroke-width="2.0" />
<line x1="1344.6" y1="1670.3" x2="1412.3" y2="1724.7" stroke="#4d494a" stroke-width="2.0" />
<text x="1166" y="190.5">Outlet Box</text>
<text x="1166" y="255.2">House Ground Wire</text>
<text x="1166" y="319.1">Green Ground Screw</text>
<text x="1166" y="386.8">Mounting Plate Unit (A)</text>
<text x="1166" y="434.3">Fixture Mounting Screw</text>
<text x="1166" y="484.6">Mounting Screw (B)</text>
<text x="1166" y="559.8">Fixture Ground Wire</text>
<text x="1166" y="607">Wire Connector (C)</text>
<text x="1166" y="764">Canopy</text>
<text x="1166" y="831.1">Bolt Nut (D)</text>
<text x="1166" y="890.4">Tube</text>
<text x="1166" y="946.6">Threaded Pipe</text>
<text x="1166" y="1058.7">Socket</text>
<text x="1443" y="1189.1">Linen Shade</text>
<text x="1225.5" y="1546.7">Max.60W Type A Bulb</text>
<text x="1292.3" y="1598">(not included)</text>
<text x="1322" y="1761">Acrylic Diffuser</text>
<text x="757" y="1067.8" text-anchor="end">Coupling</text>
<text x="829" y="1389.4" text-anchor="end">Hex Nut (F)</text>
<text x="829" y="1467.5" text-anchor="end">Long Threaded Pipe (E)</text>
<text x="829" y="1539.5" text-anchor="end">Hex Nut (F)</text>
<text x="829" y="1615" text-anchor="end">Metal Pad (G)</text>
<text x="829" y="1717.6" text-anchor="end">Decorative Cap (H)</text>
<text x="829" y="1791.2" text-anchor="end">Finial (I)</text>
</svg>
</body></html>
